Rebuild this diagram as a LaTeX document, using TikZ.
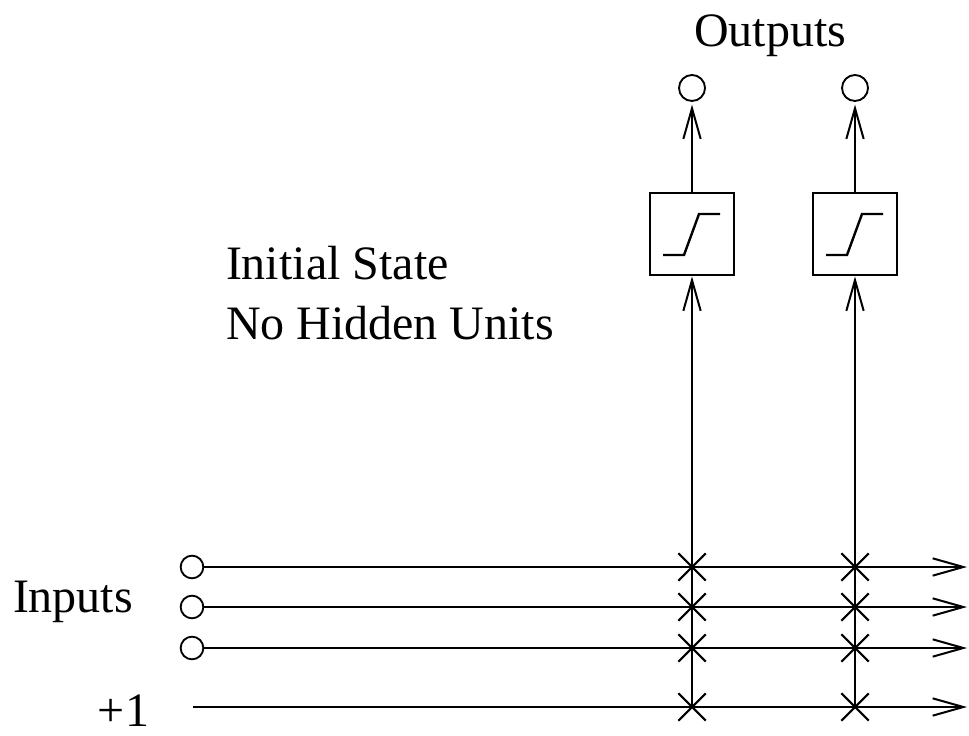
\documentclass[tikz,border=0pt]{standalone}
\usepackage{fontspec}
\setmainfont{Liberation Serif}
\usetikzlibrary{arrows.meta,shapes.misc}

\tikzset{
  unit/.style={circle,draw,line width=1.4pt,inner sep=0pt,minimum size=#1},
  squash/.style={draw,line width=2.2pt,minimum width=63pt,minimum height=61.5pt,inner sep=0pt},
  xmark/.style={cross out,draw,line width=1.6pt,minimum size=19pt,inner sep=0pt},
  txt/.style={font=\fontsize{36}{40}\selectfont,inner sep=0pt},
}

\begin{document}
\begin{tikzpicture}[x=7.5pt,y=7.5pt,line width=1.5pt,>={Straight Barb[length=23pt,width=13pt]}]
\useasboundingbox (0,0) rectangle (96.9,73.5);

% output columns: squashing box, output unit, wire from the bottom row
\foreach \i/\x in {1/69.2,2/85.5}
{
  \node[squash] (box\i) at (\x,50.1) {};
  \node[unit=19.5pt] (out\i) at (\x,64.7) {};
  \draw[->,shorten >=2pt] (box\i) -- (out\i);
  \coordinate (foot\i) at (\x,2.8);
  \draw[->] (foot\i) -- (box\i);
  % the ramp inside the box
  \draw[line width=1.8pt] (box\i.center) ++(-2.9,-2.1) -- ++(2.1,0) -- ++(1.5,4.1) -- ++(2.1,0);
};

% input rows
\foreach \j/\y in {1/16.8,2/12.8,3/8.7}
{
  \node[unit=17pt] (in\j) at (19.2,\y) {};
  \coordinate (end\j) at (96.7,\y);
  \draw[->] (in\j) -- (end\j);
};
\coordinate (bias) at (19.3,2.8);
\coordinate (end4) at (96.7,2.8);
\draw[->] (bias) -- (end4);

% weights at the crossings
\foreach \i/\x in {1/69.2,2/85.5}
  \foreach \j/\y in {1/16.8,2/12.8,3/8.7,4/2.8}
    \node[xmark] (w\i\j) at (\x,\y) {};

\node[txt,anchor=base] (outputs) at (77.0,68.8) {Outputs};
\node[txt,anchor=base west] (state) at (22.5,45.5) {Initial State};
\node[txt,anchor=base west] (hidden) at (22.5,39.5) {No Hidden Units};
\node[txt,anchor=base west] (inputs) at (1.2,12.3) {Inputs};
\node[txt,anchor=base east] (one) at (15.0,0.9) {+1};
\end{tikzpicture}
\end{document}
